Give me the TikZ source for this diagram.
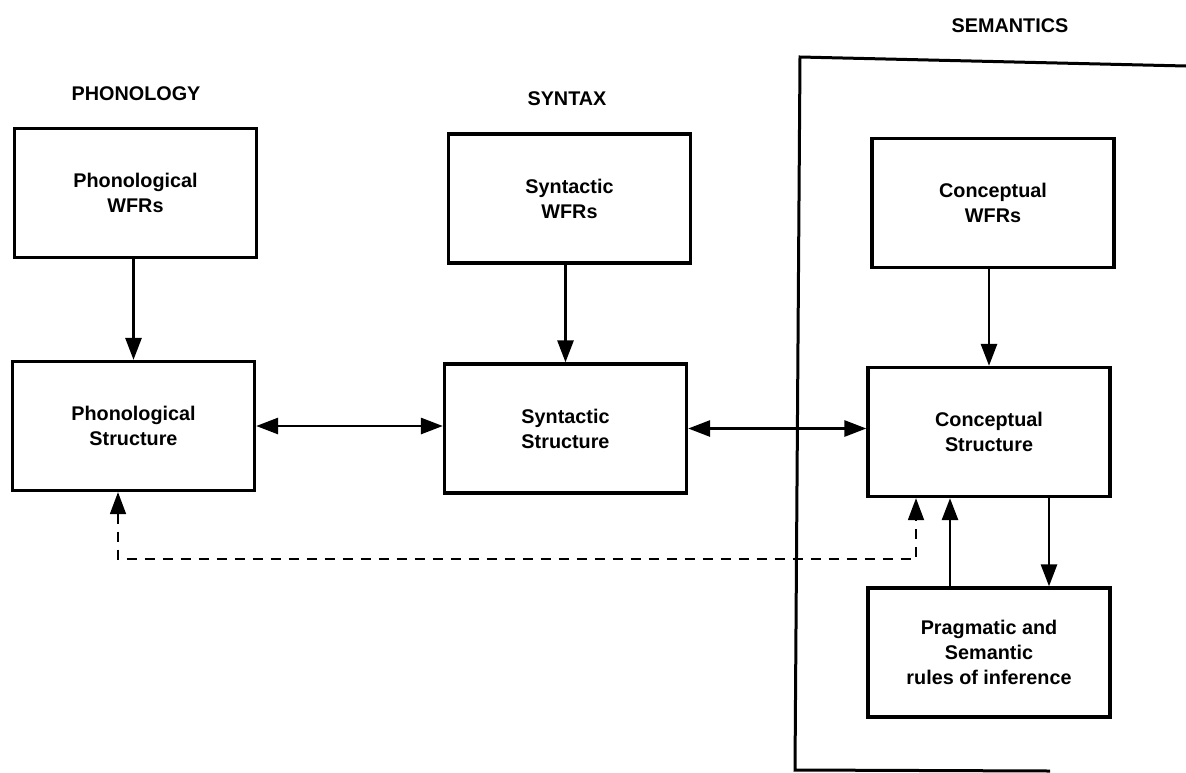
\documentclass[tikz,border=0pt]{standalone}
\usepackage{fontspec}
\setmainfont{Liberation Sans}
\usetikzlibrary{arrows.meta}
\begin{document}
\begin{tikzpicture}[x=1pt,y=-1pt,
  every node/.style={font=\bfseries\fontsize{19.8}{25}\selectfont},
  box/.style={draw, line width=3.3pt, align=center, inner sep=0pt,
              minimum width=242pt, minimum height=129pt},
  head/.style={},
  tip/.style={},
  arr/.style={line width=2.8pt, -{Triangle[length=22pt,width=16pt]}},
  dbl/.style={line width=2.8pt, {Triangle[length=22pt,width=16pt]}-{Triangle[length=22pt,width=16pt]}},
  dsh/.style={line width=1.8pt, dash pattern=on 10pt off 8pt,
              {Triangle[length=22pt,width=16pt]}-{Triangle[length=22pt,width=16pt]}}]
\useasboundingbox (0,0) rectangle (1186,772);

% column headings
\node[head] (hphon) at (136,94) {PHONOLOGY};
\node[head] (hsyn)  at (567,99) {SYNTAX};
\node[head] (hsem)  at (1010,26) {SEMANTICS};

% semantics frame, open on the right
\draw[line width=3pt] (1186,66) -- (800,57) -- (795,770) -- (1050,771);

% boxes
\node[box] (pw) at (135.5,193)   {Phonological\\WFRs};
\node[box] (ps) at (133.5,426)   {Phonological\\Structure};
\node[box] (sw) at (569.5,198.5) {Syntactic\\WFRs};
\node[box] (ss) at (565.5,428.5) {Syntactic\\Structure};
\node[box] (cw) at (993,203)     {Conceptual\\WFRs};
\node[box] (cs) at (989,432)     {Conceptual\\Structure};
\node[box] (pr) at (989,652.5)   {Pragmatic and\\Semantic\\rules of inference};

% well-formedness rules feed the structures
\draw[arr] (pw.south -| ps.north) -- (ps.north);
\draw[arr] (sw.south -| ss.north) -- (ss.north);
\draw[arr] (cw.south -| cs.north) -- (cs.north);

% correspondence between levels
\draw[dbl] (ps.east) -- (ps.east -| ss.west);
\draw[dbl] (ss.east) -- (ss.east -| cs.west);

% inference loop
\draw[arr] ([xshift=-39pt]pr.north) -- ([xshift=-39pt]cs.south);
\draw[arr] ([xshift=60pt]cs.south) -- ([xshift=60pt]pr.north);

% direct phonology--concept link
\draw[dsh] ([xshift=-15.5pt]ps.south) -- ++(0,67) -| ([xshift=-73pt]cs.south);
\end{tikzpicture}
\end{document}
